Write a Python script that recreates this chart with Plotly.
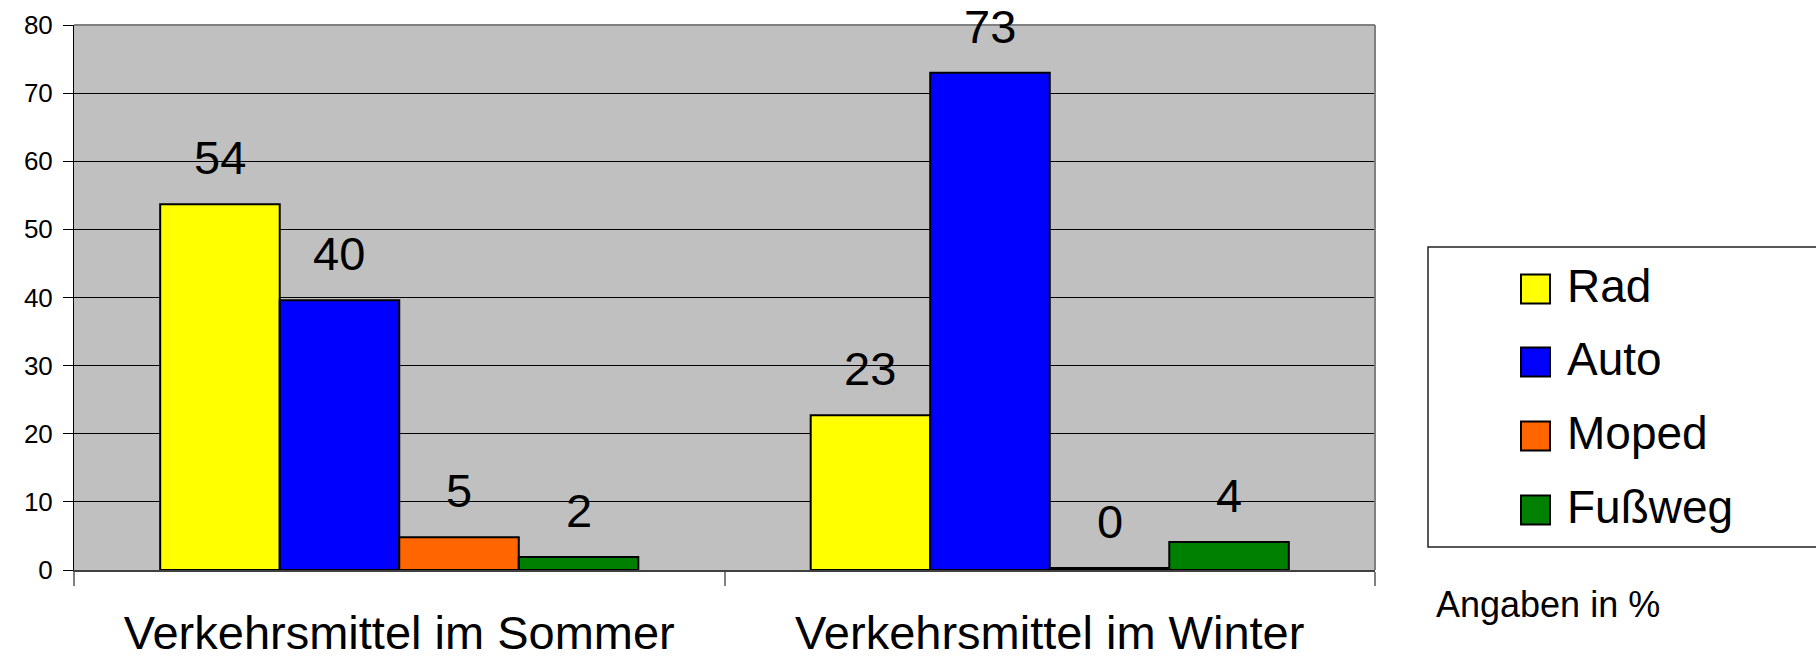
import plotly.graph_objects as go

categories = ["Verkehrsmittel im Sommer", "Verkehrsmittel im Winter"]
series_names = ["Rad", "Auto", "Moped", "Fußweg"]
rad = [53.7, 22.7]
auto = [39.6, 73.0]
moped = [4.8, 0.3]
fussweg = [1.9, 4.1]
y_ticks = [0, 10, 20, 30, 40, 50, 60, 70, 80]
unit_note = "Angaben in %"

series_values = [rad, auto, moped, fussweg]
colors = ["#FFFF00", "#0000FF", "#FF6600", "#008000"]

FONT = "Liberation Sans, Arial, Helvetica, sans-serif"
W, H = 1816, 659
ML, MR, MT, MB = 74, 441, 25, 89
PW, PH = W - ML - MR, H - MT - MB
BARGAP = 0.265


def px_x(px):
    return (px - ML) / PW


def px_y(py):
    return (H - MB - py) / PH


fig = go.Figure()
for name, vals, col in zip(series_names, series_values, colors):
    fig.add_trace(go.Bar(
        name=name, x=categories, y=vals,
        marker=dict(color=col, line=dict(color="black", width=2)),
        showlegend=False, hoverinfo="x+y+name",
    ))

annotations = []
n = len(series_names)
group_w = 1 - BARGAP
for si, vals in enumerate(series_values):
    for ci, v in enumerate(vals):
        xc = ci - group_w / 2 + (si + 0.5) * group_w / n
        annotations.append(dict(
            x=xc, y=v, xref="x", yref="y", text=f"{round(v):d}",
            showarrow=False, yanchor="bottom", xanchor="center", yshift=18,
            font=dict(family=FONT, size=47, color="black"),
        ))

# custom legend
shapes = [
    dict(type="rect", xref="paper", yref="paper",
         x0=px_x(1428), x1=px_x(1840), y0=px_y(547), y1=px_y(247),
         line=dict(color="#222", width=1.5), fillcolor="white", layer="below"),
    dict(type="line", xref="paper", yref="paper", x0=0, x1=1, y0=1, y1=1,
         line=dict(color="#808080", width=2)),
    dict(type="line", xref="paper", yref="paper", x0=1, x1=1, y0=0, y1=1,
         line=dict(color="#808080", width=2)),
]
legend_centers = [289, 362, 436, 510]
for name, col, cy in zip(series_names, colors, legend_centers):
    shapes.append(dict(type="rect", xref="paper", yref="paper",
                       x0=px_x(1521), x1=px_x(1550), y0=px_y(cy + 14.5), y1=px_y(cy - 14.5),
                       line=dict(color="black", width=2), fillcolor=col))
    annotations.append(dict(x=px_x(1565), y=px_y(cy - 3), xref="paper", yref="paper",
                            text=name, showarrow=False, xanchor="left", yanchor="middle",
                            font=dict(family=FONT, size=46, color="black")))

annotations.append(dict(x=px_x(1434), y=px_y(627), xref="paper", yref="paper",
                        text=unit_note, showarrow=False, xanchor="left", yanchor="bottom",
                        font=dict(family=FONT, size=36, color="black")))

fig.update_layout(
    width=W, height=H,
    margin=dict(l=ML, r=MR, t=MT, b=MB, pad=0, autoexpand=False),
    paper_bgcolor="white", plot_bgcolor="#C0C0C0",
    barmode="group", bargap=BARGAP, bargroupgap=0,
    font=dict(family=FONT, color="black"),
    showlegend=False,
    annotations=annotations, shapes=shapes,
    xaxis=dict(
        type="category", showgrid=False, showline=True, linecolor="#404040", linewidth=2,
        ticks="outside", tickson="boundaries", ticklen=14, tickcolor="#808080", tickwidth=2,
        tickfont=dict(family=FONT, size=47, color="black"), ticklabelstandoff=21,
        range=[-0.5, 1.5], zeroline=False, automargin=False,
    ),
    yaxis=dict(
        range=[0, 80], tickvals=y_ticks, ticktext=[str(t) for t in y_ticks],
        showgrid=True, gridcolor="black", gridwidth=1,
        showline=True, linecolor="black", linewidth=1,
        ticks="outside", ticklen=10, tickcolor="black", tickwidth=1,
        tickfont=dict(family=FONT, size=26, color="black"), ticklabelstandoff=5,
        zeroline=False, automargin=False,
    ),
)

fig.write_html(
    "out.html",
    config={"displayModeBar": False},
    post_script="document.body.style.margin='0';document.body.style.overflow='hidden';",
)
